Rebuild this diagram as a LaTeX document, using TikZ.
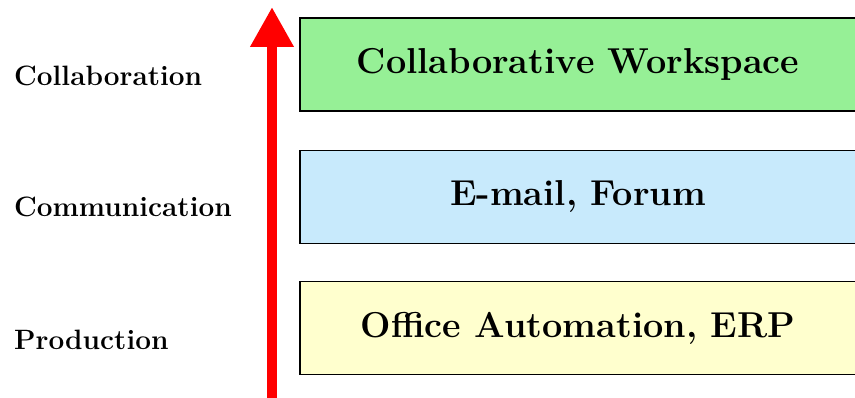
\documentclass[tikz,border=0pt]{standalone}
\usepackage{fontspec}
\usetikzlibrary{arrows.meta}

\definecolor{collabgreen}{RGB}{150,240,150}
\definecolor{commblue}{RGB}{200,234,252}
\definecolor{prodyellow}{RGB}{255,255,206}

\begin{document}
\begin{tikzpicture}
          [x=1pt,y=-1pt,
           layer/.style={draw=black,line width=1.5pt,minimum width=556pt,minimum height=93pt,inner sep=0pt,
             font=\fontsize{36}{38}\selectfont\bfseries},
           lvl/.style={anchor=west,inner sep=0pt,font=\fontsize{28}{30}\selectfont\bfseries}]

          \clip (0,0) rectangle (855,398);

          \node[layer,fill=collabgreen] (collab) at (578,64.5) {Collaborative Workspace};
          \node[layer,fill=commblue] (comm) at (578,197) {E-mail, Forum};
          \node[layer,fill=prodyellow] (prod) at (578,328) {Office Automation, ERP};

          \node[lvl] (lcollab) at (14,76) {Collaboration};
          \node[lvl] (lcomm) at (14,207) {Communication};
          \node[lvl] (lprod) at (14,340) {Production};

          \coordinate (base) at (272,398);
          \coordinate (tip) at (272,7);
          \draw[red,line width=10pt,-{Triangle[width=41pt,length=40pt]}] (base) -- (tip);
        \end{tikzpicture}
\end{document}
